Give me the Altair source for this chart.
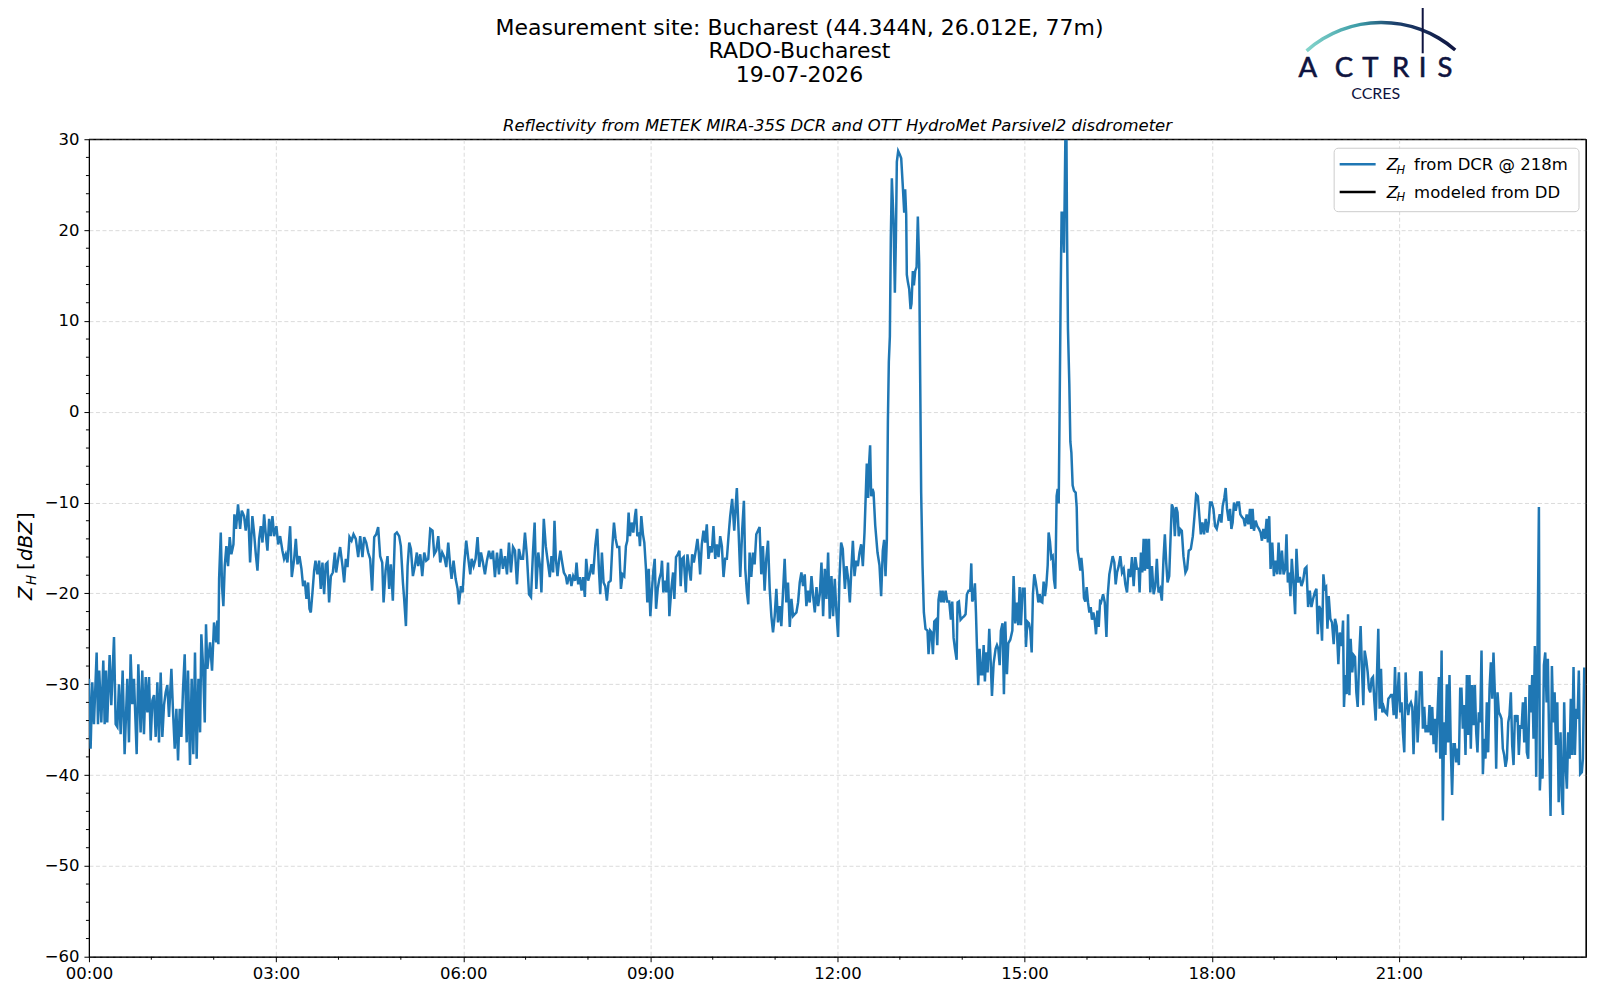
import altair as alt
import pandas as pd

# ---------------- data (minutes after 00:00 UTC, reflectivity dBZ) ----------------
t_a = [0, 1.6, 3.2, 4.8, 7.4, 8.7, 9.9, 11.9, 13.8, 15.1, 16.4, 17.6, 19.9, 21.5, 24.1, 25.7, 27.3, 28.9, 30.5, 32.4,
       34.3, 36.9, 38.5, 40.1, 41.7, 43.3, 45.9, 47.5, 49.7, 51.3, 52.9, 54.6, 56.2, 57.8, 59.4, 61.0, 62.6, 64.2, 65.8, 67.4,
       69.0, 70.6, 72.2, 73.8, 75.4, 77.0, 79.3, 80.9, 82.5, 84.1, 85.7, 87.3, 88.9, 90.5, 92.1, 94.0, 95.3, 97.2, 98.8, 100.4,
       102.0, 103.6, 105.3, 106.9, 108.1, 109.7, 111.4, 112.6, 113.9, 116.5, 118.4, 120.3, 122.3, 123.5, 124.5, 125.2, 126.8, 128.0, 129.3, 130.6,
       132.2, 133.8, 135.4, 137.0, 139.0, 139.9, 141.5, 143.4, 145.4, 147.0, 149.2, 150.8, 153.1, 155.0, 157.2, 158.8, 160.5, 162.1, 163.7, 165.3,
       166.9, 168.5, 170.1, 171.7, 173.3, 174.9, 176.5, 178.1, 180.3, 182.0, 183.9, 186.1, 187.7, 189.3, 190.9, 193.5, 195.1, 197.4, 199.0, 200.6,
       202.5, 204.4, 206.0, 207.6, 209.2, 210.8, 212.1, 213.4, 215.0, 216.6, 217.9, 219.8, 221.4, 223.0, 224.6, 226.2, 227.8, 229.4, 231.0, 232.7,
       234.6, 236.5, 237.8, 239.7, 241.6, 243.9, 245.5, 247.1, 248.7, 250.6, 252.6, 254.5, 256.7, 259.0, 260.9, 263.1, 264.7, 266.7, 268.6, 270.5,
       272.4, 274.4, 276.3, 278.2, 280.1, 282.1, 283.4, 285.3, 287.2, 288.8, 290.4, 292.3, 294.3, 296.2, 298.4, 300.0, 302.0, 303.2, 304.9, 306.5,
       308.1, 309.7, 311.6, 313.5, 315.4, 316.7, 318.7, 320.6, 322.5, 324.4, 326.4, 328.3, 330.5, 332.1, 334.1, 336.0, 337.9, 339.8, 341.8, 343.7,
       345.6, 347.5, 348.8, 350.7, 352.7, 354.6, 355.9, 357.8, 359.4, 361.0, 362.9, 364.9, 366.8, 368.1, 370.0, 371.9, 373.8, 375.5, 377.1, 379.0,
       380.9, 382.8, 384.8, 386.7, 388.6, 390.5, 392.5, 394.4, 396.3, 398.2, 400.2, 402.1, 404.0, 405.9, 407.9, 409.8, 411.7, 413.6, 415.6, 417.5,
       419.4, 421.3, 423.3, 425.2, 427.1, 428.7, 430.3, 432.2, 434.2]
z_a = [-29.4, -37.1, -29.8, -34.4, -26.5, -34.4, -28.5, -34.2, -27.4, -34.4, -28.5, -34.2, -26.8, -32.3, -24.8, -34.4, -34.7, -30.0, -35.5, -28.5,
       -37.7, -29.4, -36.4, -26.7, -32.2, -29.4, -37.7, -27.8, -35.3, -28.5, -35.5, -29.2, -33.1, -29.2, -36.2, -31.8, -31.2, -35.8, -29.8, -36.4,
       -28.7, -35.8, -32.3, -30.9, -30.1, -33.6, -28.3, -33.1, -37.1, -32.7, -38.4, -32.7, -35.8, -30.5, -26.7, -36.4, -28.5, -38.9, -29.4, -37.7,
       -26.5, -38.2, -29.4, -35.3, -24.5, -27.9, -34.2, -23.4, -28.3, -25.4, -28.5, -23.2, -25.4, -23.0, -25.6, -18.4, -13.3, -19.2, -21.4, -17.0,
       -14.8, -17.0, -13.8, -15.7, -14.6, -11.3, -12.9, -10.2, -12.9, -10.9, -11.5, -13.1, -10.7, -16.6, -11.5, -13.3, -15.7, -17.5, -14.0, -12.6,
       -14.4, -11.3, -13.5, -15.3, -11.8, -13.7, -11.5, -13.7, -12.6, -14.6, -13.7, -15.3, -16.2, -15.7, -16.6, -12.6, -18.2, -16.2, -14.0, -16.8,
       -15.9, -17.3, -19.2, -18.6, -20.6, -18.8, -21.7, -22.1, -19.9, -17.5, -16.4, -17.9, -16.4, -19.5, -16.6, -20.1, -16.8, -16.6, -21.0, -18.1,
       -17.7, -15.5, -17.7, -16.2, -14.9, -17.0, -18.8, -16.2, -17.1, -13.8, -14.2, -13.5, -14.0, -16.0, -13.7, -16.0, -13.8, -14.4, -15.5, -16.2,
       -19.7, -13.8, -13.5, -12.7, -15.9, -16.6, -21.0, -17.5, -15.9, -19.5, -16.8, -20.8, -13.5, -13.3, -13.7, -14.8, -18.8, -20.6, -23.6, -17.0,
       -14.4, -15.1, -18.1, -17.0, -15.5, -17.0, -15.7, -18.1, -15.5, -16.4, -16.2, -12.9, -13.1, -15.7, -15.3, -13.7, -16.6, -15.5, -16.0, -17.1,
       -14.4, -17.0, -18.4, -16.4, -18.4, -19.5, -21.2, -19.2, -19.9, -16.8, -14.2, -16.2, -17.9, -16.2, -17.0, -16.2, -13.8, -17.1, -15.5, -16.6,
       -17.9, -16.4, -15.3, -16.2, -15.3, -18.2, -15.5, -17.9, -15.1, -17.3, -15.9, -17.9, -14.4, -17.7, -14.9, -15.3, -19.0, -15.1, -16.2, -16.2,
       -13.3, -15.9, -20.1, -20.4, -15.5, -12.2, -19.5, -15.5, -17.3]

t_b = [435.2, 437.5, 439.4, 441.0, 443.3, 444.9, 446.5, 447.8, 449.1, 450.7, 452.3, 453.5, 455.2, 456.8, 458.7, 460.0, 461.6, 462.5, 464.1, 465.8,
       467.7, 469.0, 470.6, 472.2, 473.8, 475.4, 477.0, 478.3, 480.2, 481.8, 483.4, 485.0, 487.0, 488.9, 490.5, 491.8, 493.4, 495.0, 496.6, 498.2,
       499.8, 501.8, 503.4, 505.0, 506.6, 508.2, 510.1, 511.7, 513.3, 514.9, 516.5, 517.8, 519.1, 520.4, 522.0, 523.6, 525.2, 526.2, 527.5, 529.1,
       530.0, 531.3, 532.9, 534.2, 535.8, 537.1, 538.4, 540.0, 541.6, 542.9, 544.2, 545.5, 547.1, 548.7, 550.3, 551.2, 552.5, 554.1, 555.4, 557.0,
       558.3, 560.2, 561.9, 563.1, 564.7, 566.4, 568.0, 569.2, 570.5, 572.1, 574.1, 575.7, 577.0, 578.9, 580.2, 581.8, 583.4, 585.3, 586.6, 587.9,
       589.5, 591.1, 592.7, 594.3, 595.9, 597.5, 599.1, 600.7, 602.4, 604.0, 605.6, 607.2, 608.8, 610.4, 612.0, 613.6, 615.2, 616.8, 618.7, 620.7,
       622.3, 623.2, 624.8, 626.5, 628.4, 630.0, 631.3, 632.9, 634.2, 635.5, 637.1, 638.7, 640.3, 641.9, 643.5, 645.1, 646.7, 648.3, 649.9, 651.5,
       653.2, 654.8, 656.4, 658.0, 659.6, 661.2, 662.8, 664.4, 666.0, 667.6, 669.2, 670.8, 672.4, 674.1, 675.7, 677.3, 678.9, 680.5, 682.1, 683.7,
       685.3, 686.9, 688.5, 690.1, 691.7, 693.3, 695.0, 696.6, 698.2, 699.8, 701.4, 703.0, 704.6, 706.2, 707.8, 709.4, 711.0, 712.6, 714.2, 715.8,
       717.4, 719.0, 720.6, 721.9, 723.5, 725.1, 727.1, 728.7, 730.3, 731.9, 733.5, 734.8, 736.4, 738.0, 739.6, 741.2, 742.8, 744.4, 746.0]
z_b = [-19.9, -11.8, -14.8, -16.2, -18.2, -15.9, -17.7, -12.0, -16.2, -18.1, -16.2, -15.3, -16.6, -17.7, -18.1, -19.0, -18.2, -17.9, -19.2, -18.1,
       -18.6, -16.6, -19.0, -18.2, -19.7, -18.2, -20.4, -16.2, -18.6, -17.9, -16.8, -17.9, -14.8, -12.9, -17.3, -20.1, -15.5, -18.8, -19.2, -20.8,
       -18.8, -18.6, -14.9, -12.2, -14.0, -14.9, -14.9, -19.5, -17.9, -18.1, -14.8, -14.2, -11.1, -13.7, -12.2, -13.3, -11.5, -10.7, -13.7, -13.3,
       -14.8, -11.5, -13.5, -14.4, -17.3, -21.0, -17.3, -22.5, -19.5, -17.5, -16.2, -21.7, -19.5, -18.4, -17.7, -16.4, -19.9, -18.6, -19.9, -16.6,
       -22.5, -19.5, -17.7, -20.6, -16.0, -15.7, -15.3, -19.2, -16.2, -16.0, -19.9, -15.7, -17.0, -18.6, -15.7, -16.6, -15.5, -14.0, -15.5, -17.9,
       -14.6, -13.1, -14.4, -12.4, -16.2, -14.8, -15.5, -12.6, -16.2, -14.6, -16.0, -13.7, -14.8, -18.2, -16.2, -16.2, -13.7, -11.5, -9.6, -13.1,
       -10.0, -8.4, -12.9, -18.2, -12.9, -9.8, -17.3, -19.9, -21.2, -15.5, -18.2, -15.5, -16.8, -13.5, -13.1, -12.7, -17.9, -14.8, -19.7, -16.2,
       -14.2, -19.5, -22.5, -24.3, -22.5, -19.5, -23.2, -21.4, -23.6, -19.9, -16.2, -21.0, -18.8, -23.7, -20.6, -22.5, -22.3, -22.1, -21.0, -18.8,
       -17.7, -19.2, -17.9, -21.4, -19.7, -21.0, -18.1, -20.3, -22.1, -19.3, -21.4, -20.1, -16.6, -22.5, -17.3, -20.6, -15.5, -22.8, -18.1, -22.5,
       -18.4, -22.1, -24.8, -18.4, -14.4, -15.1, -19.5, -17.0, -18.4, -21.0, -17.0, -14.2, -18.1, -16.4, -17.0, -15.5, -14.6, -17.0, -13.3]

t_c = [748.2, 749.5, 750.5, 751.4, 752.4, 753.7, 754.7, 756.3, 758.5, 760.4, 762.0, 763.6, 764.9, 766.2, 767.5, 768.5, 769.4, 770.4, 771.3, 772.3,
       773.9, 775.2, 776.2, 777.1, 778.4, 780.0, 781.3, 782.9, 784.2, 785.1, 786.1, 786.7, 787.7, 789.0, 790.3, 791.2, 792.5, 793.5, 794.8, 796.1,
       797.3, 798.6, 799.6, 800.5, 801.8, 803.1, 804.7, 806.6, 807.6, 809.2, 810.5, 811.8, 813.1, 814.7, 816.0, 817.2, 818.5, 819.8, 821.1, 822.4,
       824.0, 825.6, 827.5, 829.1, 830.4, 831.7, 833.0, 834.6, 835.5, 836.8, 838.4, 840.0, 841.9, 843.2, 844.5, 846.1, 847.7, 848.7, 849.6, 850.9,
       852.2, 853.2, 854.1, 855.4, 856.7, 858.0, 859.3, 860.6, 861.8, 863.1, 864.4, 866.0, 867.3, 868.6, 870.2, 872.1, 873.4, 874.7, 876.0, 877.2,
       878.8, 880.1, 881.4, 883.0, 884.3, 886.2, 888.2, 889.4, 891.0, 892.6, 893.9, 895.2, 896.5, 898.1, 900.0, 901.3, 902.6, 904.2, 905.5, 906.8,
       908.0, 909.3, 910.6, 911.9, 913.2, 914.5, 915.7, 917.0, 918.3, 919.6, 920.9, 922.2, 923.1, 924.4, 925.7, 927.0, 928.3, 929.5, 930.8, 931.8,
       932.8, 933.7, 934.7, 935.6, 936.9, 937.9, 938.9, 939.5, 940.1, 940.8, 941.7, 943.0, 944.0, 945.0, 946.2, 947.5, 949.1, 950.1, 951.0, 952.3,
       953.6, 954.6, 955.9, 957.1, 958.4, 959.7, 961.0, 962.3, 963.6, 964.8, 966.1, 967.4, 968.7, 970.0, 971.3, 972.6]
z_c = [-5.7, -9.5, -5.5, -3.7, -9.3, -8.5, -8.9, -12.5, -15.5, -16.9, -20.3, -15.3, -14.1, -18.1, -14.1, -1.0, 5.5, 8.3, 19.1, 25.7,
       21.1, 13.1, 19.1, 27.5, 28.7, 28.3, 27.9, 24.7, 21.9, 24.5, 21.7, 15.1, 14.3, 13.5, 11.3, 11.9, 15.5, 13.9, 15.5, 15.9,
       21.5, 16.3, 3.1, -8.9, -16.9, -22.1, -23.9, -24.1, -26.7, -24.1, -24.3, -26.7, -23.1, -22.9, -25.7, -20.7, -19.7, -21.0, -19.7, -21.0,
       -19.7, -20.9, -20.9, -22.9, -20.9, -24.9, -26.1, -27.3, -21.0, -20.9, -22.9, -22.7, -22.5, -22.3, -20.1, -19.7, -19.7, -16.7, -20.9, -20.5,
       -18.9, -22.1, -25.7, -30.1, -26.1, -28.9, -28.9, -25.7, -29.7, -26.5, -28.7, -23.9, -27.3, -31.3, -27.7, -26.1, -25.7, -26.1, -27.9, -24.1,
       -23.3, -31.1, -23.1, -28.9, -25.5, -25.1, -24.1, -18.1, -23.3, -21.0, -23.5, -19.3, -23.5, -19.5, -19.5, -25.9, -23.1, -23.3, -24.1, -26.5,
       -20.1, -17.9, -18.7, -19.7, -21.0, -20.1, -20.9, -21.0, -18.7, -20.3, -19.1, -16.9, -13.3, -14.3, -16.1, -15.9, -18.5, -19.5, -9.3, -8.5,
       -10.1, 0.6, 13.1, 21.9, 21.9, 17.5, 27.1, 33.0, 33.0, 19.9, 9.1, 3.1, -3.3, -4.5, -8.1, -8.7, -8.9, -10.5, -15.3, -16.3,
       -17.5, -16.1, -17.7, -20.5, -20.9, -19.3, -21.0, -22.1, -21.5, -22.9, -22.1, -22.9, -24.5, -21.9, -23.7, -20.9]

t_d = [973.5, 975.5, 977.1, 978.7, 979.9, 981.5, 983.1, 984.7, 986.3, 987.6, 988.9, 990.5, 992.1, 993.7, 995.3, 996.9, 998.5, 1000.1, 1001.7, 1003.3,
       1004.9, 1006.5, 1008.1, 1009.7, 1010.6, 1011.9, 1013.2, 1014.5, 1015.7, 1017.0, 1018.3, 1019.6, 1020.9, 1022.5, 1024.1, 1025.7, 1027.2, 1028.8, 1030.4, 1032.0,
       1033.6, 1034.9, 1036.2, 1037.5, 1039.1, 1040.0, 1041.6, 1043.2, 1044.5, 1045.8, 1047.1, 1048.3, 1049.6, 1051.2, 1052.8, 1054.7, 1056.3, 1057.9, 1059.9, 1061.8,
       1063.4, 1065.0, 1066.6, 1068.2, 1069.5, 1071.0, 1072.6, 1074.2, 1075.8, 1077.1, 1078.4, 1080.0, 1081.6, 1083.2, 1084.8, 1086.1, 1087.7, 1089.3, 1090.5, 1092.1,
       1093.4, 1094.7, 1096.3, 1097.6, 1098.9, 1100.1, 1101.4, 1103.0, 1104.6, 1106.2, 1107.5, 1109.1, 1110.7, 1112.0, 1113.6, 1115.2, 1116.8, 1118.0, 1119.3, 1120.6,
       1122.2, 1123.8, 1125.4, 1127.0, 1128.3, 1129.6, 1131.2, 1132.8, 1134.0, 1135.3, 1136.6, 1138.2, 1139.8, 1141.4, 1143.0, 1144.3, 1145.9, 1147.5, 1149.1, 1150.7,
       1151.9, 1153.2, 1154.5, 1155.7, 1157.0, 1158.6, 1160.2, 1161.5, 1163.1, 1164.7, 1166.3, 1167.9, 1169.5, 1171.1, 1172.7, 1174.3, 1175.9, 1177.5, 1179.1, 1180.7,
       1182.0, 1183.2, 1184.5, 1186.1, 1187.4, 1188.7, 1190.0, 1191.3, 1192.5, 1194.1, 1195.7, 1197.3, 1198.6, 1200.2, 1201.8, 1203.1, 1205.0, 1206.3, 1207.2, 1208.5,
       1209.8, 1211.1, 1212.4, 1213.6, 1215.2, 1216.5, 1217.8, 1219.1, 1220.4, 1222.0, 1223.2, 1224.5, 1225.8, 1227.1, 1228.7, 1230.0, 1231.2, 1232.5, 1233.8, 1235.1,
       1236.4, 1237.7, 1239.0, 1240.2, 1241.5, 1242.8, 1244.1, 1245.4, 1247.0, 1248.6, 1249.9, 1251.2, 1252.4, 1253.7, 1255.0, 1256.3, 1257.6, 1258.9, 1260.0, 1261.3,
       1262.6, 1263.9, 1265.2, 1266.5, 1267.7, 1269.0, 1270.3, 1271.6, 1272.9, 1274.1, 1275.4, 1276.7, 1278.0, 1279.3, 1280.5, 1281.8, 1283.1, 1284.4, 1285.7, 1287.0,
       1288.2, 1289.5, 1290.8, 1292.1, 1293.4, 1294.6, 1295.9, 1297.2, 1298.5, 1299.8, 1301.1, 1302.3, 1303.5, 1304.8, 1306.1, 1307.4, 1308.7, 1310.0, 1311.2, 1312.5,
       1313.8, 1315.1, 1316.4, 1317.7, 1319.0, 1320.2, 1321.5, 1322.8, 1324.1, 1325.4, 1326.7, 1327.9, 1329.2, 1330.5, 1331.8, 1333.1, 1334.4, 1335.6, 1336.9, 1338.2,
       1339.5, 1340.8, 1342.1, 1343.3, 1344.6, 1345.9, 1347.2, 1348.5, 1349.8, 1351.0, 1352.3, 1353.6, 1354.9, 1356.2, 1357.5, 1358.7, 1360.0, 1361.3, 1362.6, 1363.9,
       1365.2, 1366.4, 1367.7, 1369.0, 1370.3, 1371.6, 1372.9, 1374.1, 1375.4, 1376.7, 1378.0, 1379.3, 1380.6, 1381.8, 1383.1, 1384.4, 1385.7, 1387.0, 1388.3, 1389.5,
       1390.8, 1392.1, 1393.4, 1394.7, 1395.6, 1396.9, 1398.2, 1399.5, 1400.8, 1402.1, 1403.3, 1404.6, 1405.9, 1407.2, 1408.5, 1409.8, 1411.1, 1412.4, 1413.7]
z_d = [-21.0, -20.1, -21.0, -24.8, -20.3, -17.9, -16.9, -15.9, -16.6, -19.0, -17.7, -17.0, -15.9, -17.7, -17.3, -19.0, -19.9, -17.3, -18.2, -16.0,
       -19.2, -16.0, -17.3, -17.3, -19.9, -15.5, -17.7, -14.0, -17.5, -14.0, -17.3, -14.0, -19.9, -17.0, -20.1, -19.2, -16.2, -19.9, -19.5, -20.8,
       -16.2, -13.5, -16.6, -18.8, -18.1, -15.1, -10.2, -10.7, -13.7, -10.5, -11.1, -13.7, -12.9, -13.1, -15.9, -17.7, -17.3, -15.3, -15.1, -13.7,
       -11.5, -9.1, -9.3, -11.6, -13.5, -12.2, -13.5, -11.8, -13.3, -12.2, -10.0, -10.0, -10.7, -12.6, -12.9, -12.2, -11.3, -12.2, -10.4, -9.5,
       -8.4, -10.7, -12.0, -10.7, -12.9, -12.2, -10.0, -10.9, -10.0, -10.0, -11.3, -11.6, -11.8, -12.6, -11.3, -12.4, -10.7, -12.9, -10.7, -13.1,
       -12.0, -12.6, -12.9, -13.3, -14.2, -12.9, -14.0, -11.8, -14.4, -11.5, -17.3, -14.4, -18.1, -16.4, -17.9, -14.4, -17.9, -15.3, -17.9, -17.3,
       -13.5, -18.8, -17.7, -20.3, -16.2, -18.8, -22.3, -15.1, -18.8, -18.2, -19.2, -18.6, -17.3, -17.1, -21.5, -19.7, -21.5, -20.6, -19.9, -19.5,
       -24.5, -21.4, -21.7, -25.2, -17.9, -19.5, -19.3, -23.9, -20.3, -22.8, -23.2, -25.6, -22.8, -23.6, -27.8, -24.3, -25.8, -23.0, -32.5, -29.0,
       -31.1, -22.3, -31.2, -25.0, -28.7, -26.8, -27.0, -30.9, -32.5, -26.5, -23.6, -28.3, -32.3, -26.3, -27.4, -28.7, -30.5, -30.9, -29.4, -29.2,
       -31.8, -34.0, -28.7, -23.9, -32.7, -28.3, -33.1, -32.5, -33.1, -33.3, -31.6, -31.4, -31.2, -31.2, -33.4, -28.1, -33.8, -30.9, -28.7, -33.1,
       -32.0, -35.3, -37.5, -28.7, -32.0, -33.4, -32.3, -32.0, -32.5, -37.7, -33.1, -30.7, -36.4, -33.3, -28.7, -28.7, -34.9, -32.5, -35.3, -34.5,
       -35.3, -32.3, -35.6, -32.5, -36.6, -33.8, -37.5, -33.1, -29.2, -38.2, -26.3, -45.0, -34.2, -37.8, -30.0, -36.4, -29.0, -37.3, -42.2, -36.6,
       -36.6, -38.6, -37.1, -38.9, -30.5, -30.5, -34.9, -32.3, -37.8, -29.0, -35.6, -29.0, -37.1, -30.1, -34.5, -30.1, -35.3, -37.5, -33.1, -34.2,
       -26.3, -39.9, -36.0, -38.2, -32.0, -37.5, -30.5, -27.6, -31.6, -26.5, -30.9, -39.3, -30.9, -33.1, -33.4, -33.8, -37.1, -37.8, -39.1, -38.2,
       -34.2, -33.4, -30.9, -36.7, -38.9, -33.4, -33.8, -33.4, -37.8, -34.5, -34.9, -32.0, -36.4, -31.4, -37.5, -38.2, -30.1, -33.1, -29.0, -36.0,
       -25.8, -40.2, -25.8, -10.5, -41.7, -38.2, -40.4, -27.9, -26.5, -32.0, -27.2, -36.6, -44.5, -28.0, -34.2, -30.9, -36.7, -32.0, -43.0]

t_e = [1415.5, 1416.8, 1417.8, 1419.0, 1420.3, 1421.6, 1422.9, 1424.2, 1425.4, 1426.7,
       1428.0, 1429.3, 1430.6, 1431.9, 1433.1, 1434.4, 1436.0, 1437.0, 1438.3, 1439.5]
z_e = [-35.3, -42.6, -44.4, -32.0, -38.9, -41.5, -35.3, -38.2, -31.6, -37.8,
       -28.1, -37.8, -32.7, -33.8, -28.5, -39.9, -39.7, -38.2, -28.3, -28.3]

major_hours = [0, 3, 6, 9, 12, 15, 18, 21]
minor_hours = [1, 2, 4, 5, 7, 8, 10, 11, 13, 14, 16, 17, 19, 20, 22, 23]
major_dbz = [-60, -50, -40, -30, -20, -10, 0, 10, 20, 30]
minor_dbz = [v for v in range(-58, 30, 2) if v % 10 != 0]

title_lines = ["Measurement site: Bucharest (44.344N, 26.012E, 77m)", "RADO-Bucharest", "19-07-2026"]
subtitle = "Reflectivity from METEK MIRA-35S DCR and OTT HydroMet Parsivel2 disdrometer"
legend_rest = ["from DCR @ 218m", "modeled from DD"]
legend_colors = ["#1f77b4", "#000000"]

# ---------------- build table ----------------
pairs = []
for ts, zs in [(t_a, z_a), (t_b, z_b), (t_c, z_c), (t_d, z_d), (t_e, z_e)]:
    pairs.extend(zip(ts, zs))
df = pd.DataFrame(pairs, columns=["minute", "dbz"])
df["hour"] = df["minute"] / 60.0

W, H = 1498, 818
FONT = "DejaVu Sans"
NAVY = "#0f1440"
xscale = alt.Scale(domain=[0, 24], nice=False, zero=False)
yscale = alt.Scale(domain=[-60, 30], nice=False, zero=False)
ONE = pd.DataFrame({"k": [0]})

common_axis = dict(tickSize=5, tickColor="black", tickWidth=1, domainColor="black", domainWidth=1.1,
                   labelFontSize=16.5, labelColor="black", labelFont=FONT, grid=True,
                   gridColor="#d2d2d2", gridDash=[4, 2.5], gridWidth=0.8, title="",
                   labelFlush=False, labelOverlap=False)

line = alt.Chart(df).mark_line(color="#1f77b4", strokeWidth=2.5, clip=True).encode(
    x=alt.X("hour:Q", scale=xscale,
            axis=alt.Axis(values=major_hours, labelExpr="format(datum.value, '02d') + ':00'",
                          labelPadding=4, **common_axis)),
    y=alt.Y("dbz:Q", scale=yscale,
            axis=alt.Axis(values=major_dbz, format="d", labelPadding=5, **common_axis)),
)

# minor ticks drawn through the same scales (same field names so the axes merge)
minor_x = alt.Chart(pd.DataFrame({"hour": minor_hours})).mark_rule(color="black", strokeWidth=1).encode(
    x=alt.X("hour:Q", scale=xscale), y=alt.value(H), y2=alt.value(H + 3))
minor_y = alt.Chart(pd.DataFrame({"dbz": minor_dbz})).mark_rule(color="black", strokeWidth=1).encode(
    y=alt.Y("dbz:Q", scale=yscale), x=alt.value(-3), x2=alt.value(0))

ONE_CHART = alt.Chart(ONE)
# solid frame on top / right (drawn over the grid lines at the edges)
top_spine = ONE_CHART.mark_rule(color="black", strokeWidth=1.1).encode(
    x=alt.value(0), x2=alt.value(W), y=alt.value(0))
right_spine = ONE_CHART.mark_rule(color="black", strokeWidth=1.1).encode(
    x=alt.value(W), y=alt.value(0), y2=alt.value(H))


def txt(s, x, y, size, **kw):
    props = dict(text=s, fontSize=size, font=FONT, color="black")
    props.update(kw)
    return alt.Chart(ONE).mark_text(**props).encode(x=alt.value(x), y=alt.value(y))


layers = [line, minor_x, minor_y, top_spine, right_spine]

# figure titles
for i, s in enumerate(title_lines):
    layers.append(txt(s, 711, -111 + i * 23.2, 22, baseline="middle"))
layers.append(txt(subtitle, W / 2, -13, 16.5, fontStyle="italic", baseline="middle"))

# y-axis title  Z_H [dBZ]
ybase = -57
layers.append(txt("Z", ybase, 461, 20, angle=270, align="left", baseline="alphabetic", fontStyle="italic"))
layers.append(txt("H", ybase + 4, 446, 13.5, angle=270, align="left", baseline="alphabetic", fontStyle="italic"))
layers.append(txt("[", ybase, 431, 20, angle=270, align="left", baseline="alphabetic"))
layers.append(txt("dBZ", ybase, 422, 20, angle=270, align="left", baseline="alphabetic", fontStyle="italic"))
layers.append(txt("]", ybase, 381, 20, angle=270, align="left", baseline="alphabetic"))

# legend
layers.append(alt.Chart(ONE).mark_rect(fill="white", fillOpacity=0.85, stroke="#cccccc", strokeWidth=1,
                                       cornerRadius=4).encode(
    x=alt.value(1246), x2=alt.value(1491), y=alt.value(9), y2=alt.value(72.5)))
for i, (rest, col) in enumerate(zip(legend_rest, legend_colors)):
    yc = 25 + i * 27.7
    layers.append(alt.Chart(ONE).mark_rule(color=col, strokeWidth=2.5).encode(
        x=alt.value(1251.5), x2=alt.value(1287.5), y=alt.value(yc)))
    layers.append(txt("Z", 1298.5, yc + 6, 16.5, align="left", baseline="alphabetic", fontStyle="italic"))
    layers.append(txt("H", 1308.5, yc + 9.4, 11.5, align="left", baseline="alphabetic", fontStyle="italic"))
    layers.append(txt(rest, 1326, yc + 6, 16.5, align="left", baseline="alphabetic"))

# ACTRIS / CCRES logo
arc_grad = {"gradient": "linear", "x1": 0, "x2": 1, "y1": 0, "y2": 0,
            "stops": [{"offset": 0, "color": "#86d6cc"}, {"offset": 0.35, "color": "#3c9ca7"},
                      {"offset": 0.6, "color": "#1c3f6c"}, {"offset": 1, "color": NAVY}]}
layers.append(alt.Chart(ONE).mark_arc(radius=114.5, radius2=111.0, theta=5.557, theta2=6.997,
                                      fill=arc_grad).encode(x=alt.value(1293.3), y=alt.value(-4.1)))
layers.append(alt.Chart(ONE).mark_rule(color=NAVY, strokeWidth=2).encode(
    x=alt.value(1334.6), y=alt.value(-137), y2=alt.value(-86)))
for letter, lx in zip("ACTRIS", [1219.5, 1255.8, 1282.1, 1312.5, 1334.6, 1356.8]):
    layers.append(txt(letter, lx, -62.3, 27.5, font="Lato", color=NAVY, baseline="alphabetic",
                      stroke=NAVY, strokeWidth=0.6))
layers.append(txt("CCRES", 1287.6, -40, 16, font="Lato", color=NAVY, baseline="alphabetic"))

chart = alt.layer(*layers).properties(
    width=W, height=H,
    autosize=alt.AutoSizeParams(type="none"),
    padding={"left": 81, "top": 131, "right": 6, "bottom": 40},
    background="white",
).configure_view(stroke="black", strokeWidth=1.1)

chart.save("out.html", embed_options={"renderer": "svg", "actions": False})
